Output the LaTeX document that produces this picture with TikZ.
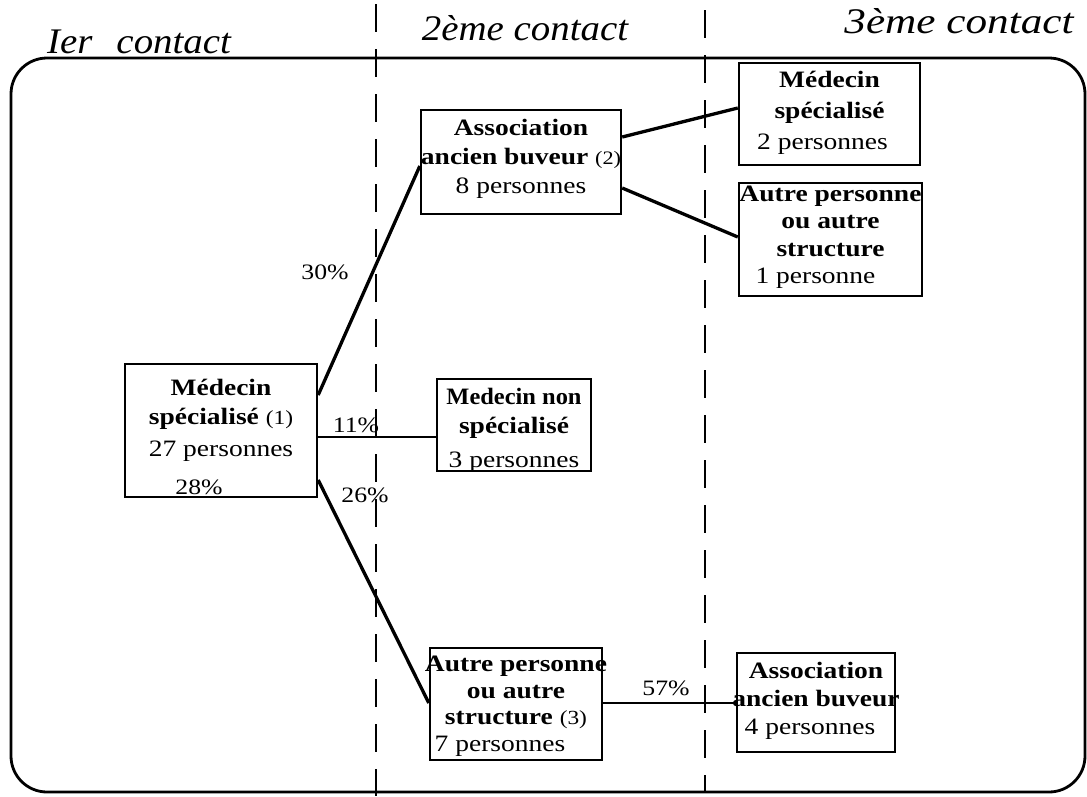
\documentclass[tikz,border=0pt]{standalone}
\usepackage{fontspec}
\setmainfont{Liberation Serif}[FakeStretch=1.17]
\newfontfamily\narrowfont{Liberation Serif}[FakeStretch=1.04]
\newfontfamily\headfont{Liberation Serif}[FakeStretch=1.08]
\newfontfamily\headwide{Liberation Serif}[FakeStretch=1.2]
\begin{document}
\begin{tikzpicture}[x=1pt,y=-1pt,
  box/.style={draw, line width=2.4pt, inner sep=0pt},
  txt/.style={align=center, inner sep=0pt, font=\fontsize{23.5}{29}\selectfont},
  head/.style={inner sep=0pt, anchor=base, font=\headfont\itshape\fontsize{36}{36}\selectfont},
  pct/.style={inner sep=0pt, font=\fontsize{22}{22}\selectfont},
  link/.style={line width=3.3pt},
  flat/.style={line width=1.9pt},
  sep/.style={line width=2.2pt, dash pattern=on 28pt off 17pt}
]
\useasboundingbox (0,0) rectangle (1087,796);

% column headings
\node[head] (h1) at (139,53) {Ier\hspace{0.4em} contact};
\node[head] (h2) at (525,40) {2ème contact};
\node[head, font=\headwide\itshape\fontsize{36}{36}\selectfont] (h3) at (959,33) {3ème contact};

% column separators
\draw[sep] (376,4) -- (376,796);
\draw[sep] (705,10) -- (705,792);

% outer frame
\draw[line width=2.8pt, rounded corners=36pt] (11,58) rectangle (1085,792);

% boxes
\node[box, minimum width=192pt, minimum height=133pt] (A) at (221,430.5) {};
\node[box, minimum width=200pt, minimum height=104pt] (B) at (521,162) {};
\node[box, minimum width=154pt, minimum height=92pt]  (C) at (514,425) {};
\node[box, minimum width=172pt, minimum height=112pt] (D) at (516,704) {};
\node[box, minimum width=181pt, minimum height=102pt] (E) at (829.5,114) {};
\node[box, minimum width=183pt, minimum height=113pt] (F) at (830.5,239.5) {};
\node[box, minimum width=158pt, minimum height=99pt]  (G) at (816,702.5) {};

% box texts
\node[txt] (tA) at (221,420) {\textbf{Médecin}\\\textbf{spécialisé} {\fontsize{20}{20}\selectfont(1)}\\[3pt]27 personnes};
\node[txt] (tB) at (521,159) {\textbf{Association}\\\textbf{ancien buveur} {\fontsize{19}{19}\selectfont(2)}\\8 personnes};
\node[txt] (tC) at (514,430) {{\narrowfont\bfseries Medecin non}\\\textbf{spécialisé}\\[5pt]3 personnes};
\node[txt, font=\fontsize{23.5}{26.5}\selectfont] (tD) at (516,706) {\textbf{Autre personne}\\\textbf{ou autre}\\\textbf{structure} {\fontsize{20}{20}\selectfont(3)}\\7 personnes\hspace*{32pt}};
\node[txt, font=\fontsize{23.5}{31}\selectfont] (tE) at (829.5,113) {\textbf{Médecin}\\\textbf{spécialisé}\\2 personnes\hspace*{14pt}};
\node[txt, font=\fontsize{23.5}{27.5}\selectfont] (tF) at (830.5,237) {\textbf{Autre personne}\\\textbf{ou autre}\\\textbf{structure}\\1 personne\hspace*{30pt}};
\node[txt, font=\fontsize{23.5}{28}\selectfont] (tG) at (816,701) {\textbf{Association}\\\textbf{ancien buveur}\\4 personnes\hspace*{12pt}};

% percentages
\node[pct] (p30) at (325,272) {30\%};
\node[pct] (p11) at (356,425) {11\%};
\node[pct] (p28) at (199,487) {28\%};
\node[pct] (p26) at (365,495) {26\%};
\node[pct] (p57) at (666,688) {57\%};

% connectors
\draw[link] ([yshift=35.5pt]A.east) -- ([yshift=-4pt]B.west);
\draw[flat] ([yshift=-6.5pt]A.east) -- ([yshift=-12pt]C.west);
\draw[link] ([yshift=-49.5pt]A.east) -- ([yshift=1pt]D.west);
\draw[link] ([yshift=25pt]B.east) -- ([yshift=6pt]E.west);
\draw[link] ([yshift=-26pt]B.east) -- ([yshift=2.5pt]F.west);
\draw[flat] ([yshift=1pt]D.east) -- ([yshift=-0.5pt]G.west);
\end{tikzpicture}
\end{document}
